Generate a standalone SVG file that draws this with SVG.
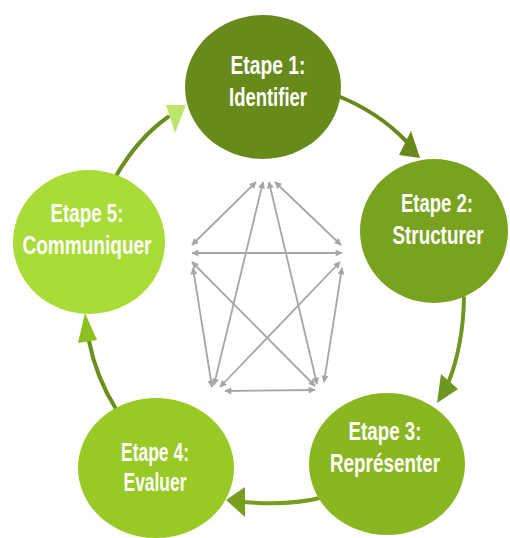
<svg xmlns="http://www.w3.org/2000/svg" width="510" height="538" viewBox="0 0 510 538">
<defs>
<marker id="ga" viewBox="0 0 10 10" refX="9" refY="5" markerWidth="9" markerHeight="7" markerUnits="userSpaceOnUse" orient="auto-start-reverse">
<path d="M0,0 L10,5 L0,10 z" fill="#a6a6a6"/>
</marker>
</defs>
<style>
.lbl{font-family:"Liberation Sans",Arial,sans-serif;font-weight:bold;font-size:26px;fill:#ffffff;text-anchor:middle}
.star line{stroke:#a6a6a6;stroke-width:1.8;marker-start:url(#ga);marker-end:url(#ga)}
.arc{fill:none;stroke-width:4;stroke-linecap:round}
</style>
<rect width="510" height="538" fill="#ffffff"/>
<g id="connectors">
<g class="star">
<line x1="256" y1="182" x2="192" y2="245"/>
<line x1="275" y1="182" x2="341" y2="245"/>
<line x1="192" y1="253" x2="342" y2="253"/>
<line x1="193" y1="268" x2="212" y2="387"/>
<line x1="192" y1="262" x2="315" y2="386"/>
<line x1="263" y1="182" x2="214" y2="385"/>
<line x1="269" y1="182" x2="317" y2="384"/>
<line x1="340" y1="262" x2="220" y2="387"/>
<line x1="342" y1="268" x2="324" y2="382"/>
<line x1="225" y1="391" x2="315" y2="390"/>
</g>
<path class="arc" d="M338,96 Q378,112 406,141" stroke="#678a1a"/>
<polygon points="411,131 399,155 420,158" fill="#678a1a"/>
<path class="arc" d="M464,298 Q463,345 449,381" stroke="#6e9620"/>
<polygon points="441,374 458,389 437,403" fill="#6e9620"/>
<path class="arc" d="M324,497 Q290,506 244,502" stroke="#779e1e"/>
<polygon points="245,487 245,517 226,500" fill="#779e1e"/>
<path class="arc" d="M116,409 Q96,377 89,341" stroke="#6b8e1e"/>
<polygon points="85,313 78,343 97,340" fill="#8cc21f"/>
<path class="arc" d="M116,176 Q138,138 168,117" stroke="#6b8e1e"/>
<polygon points="166,105 186,105 175,133" fill="#bde66a"/>
</g>
<g id="node1">
<ellipse cx="263" cy="87" rx="78" ry="72" fill="#678a1a"/>
<text class="lbl" x="268" y="74" textLength="75" lengthAdjust="spacingAndGlyphs">Etape 1:</text>
<text class="lbl" x="268" y="106" textLength="78" lengthAdjust="spacingAndGlyphs">Identifier</text>
</g>
<g id="node2">
<ellipse cx="434" cy="231" rx="74" ry="72" fill="#79a21f"/>
<text class="lbl" x="437" y="212" textLength="72" lengthAdjust="spacingAndGlyphs">Etape 2:</text>
<text class="lbl" x="438" y="244" textLength="91" lengthAdjust="spacingAndGlyphs">Structurer</text>
</g>
<g id="node3">
<ellipse cx="387" cy="464" rx="78" ry="71" fill="#8ab622"/>
<text class="lbl" x="385" y="440" textLength="73" lengthAdjust="spacingAndGlyphs">Etape 3:</text>
<text class="lbl" x="385" y="472" textLength="110" lengthAdjust="spacingAndGlyphs">Représenter</text>
</g>
<g id="node4">
<ellipse cx="156" cy="468" rx="78" ry="70" fill="#98c924"/>
<text class="lbl" x="155" y="461" textLength="68" lengthAdjust="spacingAndGlyphs">Etape 4:</text>
<text class="lbl" x="155" y="491" textLength="63" lengthAdjust="spacingAndGlyphs">Evaluer</text>
</g>
<g id="node5">
<ellipse cx="89" cy="242" rx="76" ry="72" fill="#a9dc36"/>
<text class="lbl" x="87" y="222" textLength="73" lengthAdjust="spacingAndGlyphs">Etape 5:</text>
<text class="lbl" x="87" y="254" textLength="129" lengthAdjust="spacingAndGlyphs">Communiquer</text>
</g>
</svg>
